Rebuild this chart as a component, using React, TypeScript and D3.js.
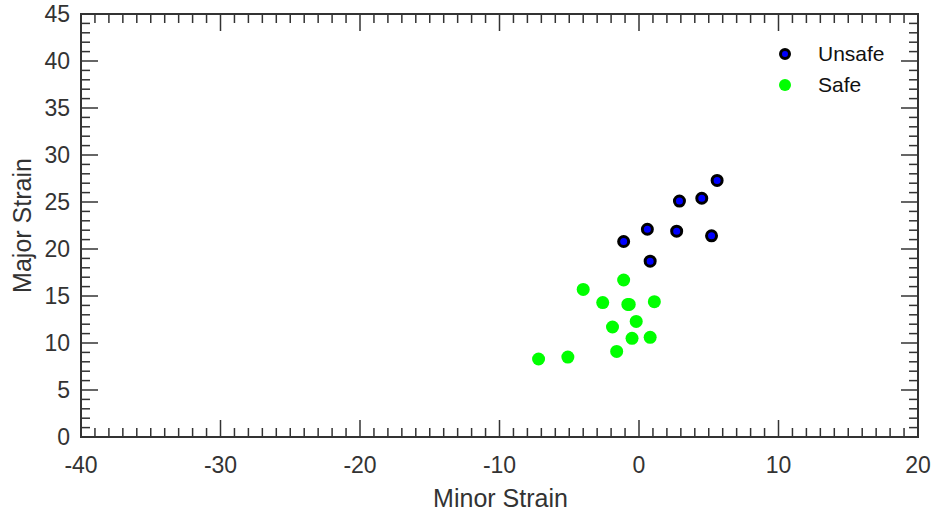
import React from "react";
import * as d3 from "d3";

const unsafeMinor = [5.6, 4.5, 2.9, 0.6, 2.7, 5.2, -1.1, 0.8];
const unsafeMajor = [27.3, 25.4, 25.1, 22.1, 21.9, 21.4, 20.8, 18.7];
const safeMinor = [-1.1, -4.0, -2.6, -0.8, -0.7, 1.1, -0.2, -1.9, -0.5, 0.8, -1.6, -5.1, -7.2];
const safeMajor = [16.7, 15.7, 14.3, 14.1, 14.1, 14.4, 12.3, 11.7, 10.5, 10.6, 9.1, 8.5, 8.3];
const xTicks = [-40, -30, -20, -10, 0, 10, 20];
const yTicks = [0, 5, 10, 15, 20, 25, 30, 35, 40, 45];
const legendLabels = ["Unsafe", "Safe"];

const W = 936, H = 513;
const L = 81, R = 918, T = 14, B = 437;
const AX = "#333333";
const FONT = "Liberation Sans, Arial, sans-serif";

export default function App() {
  const x = d3.scaleLinear().domain([-40, 20]).range([L, R]);
  const y = d3.scaleLinear().domain([0, 45]).range([B, T]);
  const xMinor = d3.range(-40, 21, 1);
  const yMinor = d3.range(0, 46, 1);
  const majLen = 17, minLen = 9;
  const unsafe = unsafeMinor.map((v, i) => [v, unsafeMajor[i]]);
  const safe = safeMinor.map((v, i) => [v, safeMajor[i]]);
  return (
    <svg width={W} height={H} style={{ position: "absolute", left: 0, top: 0, background: "#fff" }}>
      <rect x={0} y={0} width={W} height={H} fill="#fff" />
      <g stroke={AX} strokeWidth={1.5}>
        {xMinor.map((v) => {
          const len = v % 10 === 0 ? majLen : minLen;
          return (
            <g key={"x" + v}>
              <line x1={x(v)} x2={x(v)} y1={B} y2={B - len} />
              <line x1={x(v)} x2={x(v)} y1={T} y2={T + len} />
            </g>
          );
        })}
        {yMinor.map((v) => {
          const len = v % 5 === 0 ? majLen : minLen;
          return (
            <g key={"y" + v}>
              <line x1={L} x2={L + len} y1={y(v)} y2={y(v)} />
              <line x1={R} x2={R - len} y1={y(v)} y2={y(v)} />
            </g>
          );
        })}
        <rect x={L} y={T} width={R - L} height={B - T} fill="none" strokeWidth={2} />
      </g>
      <g fontFamily={FONT} fontSize={23} fill={AX}>
        {xTicks.map((v) => (
          <text key={"xt" + v} x={x(v)} y={B + 36} textAnchor="middle">{v}</text>
        ))}
        {yTicks.map((v) => (
          <text key={"yt" + v} x={L - 11} y={y(v) + 8} textAnchor="end">{v}</text>
        ))}
        <text x={(L + R) / 2 + 1} y={507} textAnchor="middle" fontSize={25}>Minor Strain</text>
        <text transform={`translate(31,${(T + B) / 2}) rotate(-90)`} textAnchor="middle" fontSize={25}>Major Strain</text>
      </g>
      <g>
        {safe.map((d, i) => (
          <circle key={"s" + i} cx={x(d[0])} cy={y(d[1])} r={6.5} fill="#00ff00" />
        ))}
        {unsafe.map((d, i) => (
          <circle key={"u" + i} cx={x(d[0])} cy={y(d[1])} r={5} fill="#0000ff" stroke="#000" strokeWidth={3} />
        ))}
      </g>
      <g fontFamily={FONT} fontSize={21} fill="#111">
        <circle cx={785} cy={54} r={4.5} fill="#0000ff" stroke="#000" strokeWidth={3} />
        <text x={818} y={61}>{legendLabels[0]}</text>
        <circle cx={785} cy={85} r={6} fill="#00ff00" />
        <text x={818} y={92}>{legendLabels[1]}</text>
      </g>
    </svg>
  );
}
